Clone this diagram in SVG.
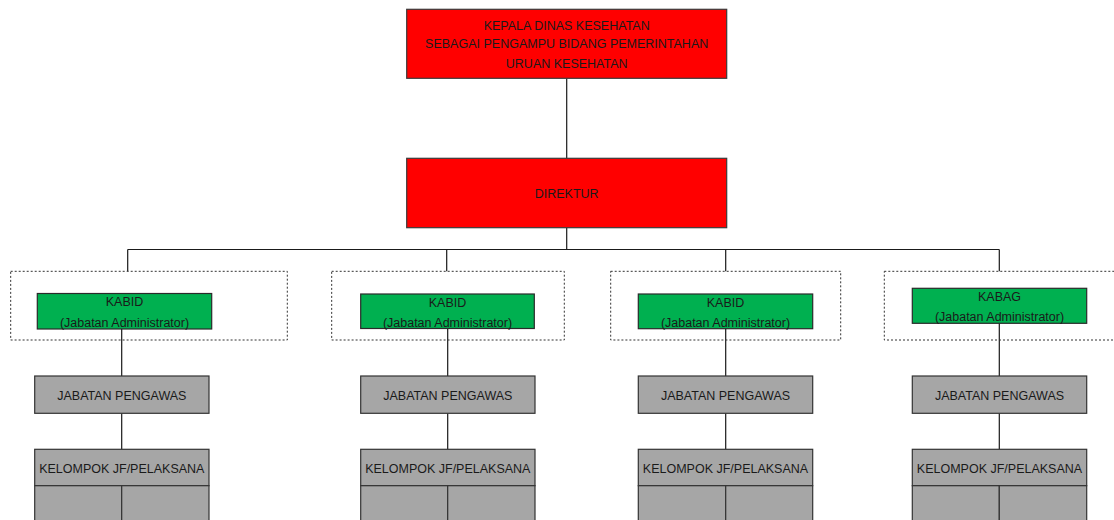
<svg xmlns="http://www.w3.org/2000/svg" width="1114" height="520" viewBox="0 0 1114 520">
  <style>
    text { font-family: "Liberation Sans", Arial, sans-serif; font-size: 12.5px; fill: #1a1a1a; text-anchor: middle; dominant-baseline: central; }
    .red { fill: #ff0000; stroke: #3a3a3a; stroke-width: 1.2; }
    .green { fill: #00b050; stroke: #2a2a2a; stroke-width: 1.2; }
    .grey { fill: #a6a6a6; stroke: #333333; stroke-width: 1.2; }
    .frame { fill: none; stroke: #333333; stroke-width: 1; stroke-dasharray: 2 2; }
    .link { fill: none; stroke: #1a1a1a; stroke-width: 1.2; }
  </style>

  <!-- connectors -->
  <g id="connectors">
    <path class="link" d="M566.7 78.5 V158.3"/>
    <path class="link" d="M566.7 227.7 V249.5"/>
    <path class="link" d="M127.7 249.5 H999.3"/>
    <path class="link" d="M127.7 249.5 V271.3 M446.7 249.5 V271.3 M725.7 249.5 V271.3 M999.3 249.5 V271.3"/>
    <path class="link" d="M121.7 329 V376 M447.7 328.5 V376 M725.7 328.7 V376 M999.3 323.3 V376"/>
    <path class="link" d="M121.7 413.3 V449.3 M447.7 413.3 V449.3 M725.7 413.3 V449.3 M999.3 413.3 V449.3"/>
  </g>

  <!-- head of office -->
  <g id="kepala-dinas">
    <rect class="red" x="406.7" y="9.3" width="320" height="69"/>
    <text x="566.7" y="25.5">KEPALA DINAS KESEHATAN</text>
    <text x="566.7" y="44.3">SEBAGAI PENGAMPU BIDANG PEMERINTAHAN</text>
    <text x="566.7" y="63.5">URUAN KESEHATAN</text>
  </g>

  <g id="direktur">
    <rect class="red" x="406.7" y="158.3" width="320" height="69.4"/>
    <text x="566.7" y="194">DIREKTUR</text>
  </g>

  <!-- column 1 -->
  <g id="kabid-1">
    <rect class="frame" x="10.7" y="271.3" width="276.6" height="68.7"/>
    <rect class="green" x="37.3" y="293.5" width="174.4" height="35.5"/>
    <text x="124.5" y="302.3">KABID</text>
    <text x="124.5" y="322.5">(Jabatan Administrator)</text>
  </g>
  <g id="pengawas-1">
    <rect class="grey" x="34.7" y="376" width="174.3" height="37.3"/>
    <text x="121.8" y="396">JABATAN PENGAWAS</text>
  </g>
  <g id="kelompok-1">
    <rect class="grey" x="34.7" y="449.3" width="174.3" height="36.4"/>
    <text x="121.8" y="469">KELOMPOK JF/PELAKSANA</text>
    <rect class="grey" x="34.7" y="485.7" width="87" height="40"/>
    <rect class="grey" x="121.7" y="485.7" width="87.3" height="40"/>
  </g>

  <!-- column 2 -->
  <g id="kabid-2">
    <rect class="frame" x="331.7" y="271.3" width="232.6" height="68.7"/>
    <rect class="green" x="360.7" y="294" width="173.6" height="34.5"/>
    <text x="447.5" y="302.5">KABID</text>
    <text x="447.5" y="322.5">(Jabatan Administrator)</text>
  </g>
  <g id="pengawas-2">
    <rect class="grey" x="360.7" y="376" width="174.3" height="37.3"/>
    <text x="447.8" y="396">JABATAN PENGAWAS</text>
  </g>
  <g id="kelompok-2">
    <rect class="grey" x="360.7" y="449.3" width="174.3" height="36.4"/>
    <text x="447.8" y="469">KELOMPOK JF/PELAKSANA</text>
    <rect class="grey" x="360.7" y="485.7" width="87" height="40"/>
    <rect class="grey" x="447.7" y="485.7" width="87.3" height="40"/>
  </g>

  <!-- column 3 -->
  <g id="kabid-3">
    <rect class="frame" x="610.7" y="271.3" width="230" height="68.7"/>
    <rect class="green" x="638.3" y="294" width="174.4" height="34.7"/>
    <text x="725.5" y="302.5">KABID</text>
    <text x="725.5" y="322.5">(Jabatan Administrator)</text>
  </g>
  <g id="pengawas-3">
    <rect class="grey" x="638.3" y="376" width="174.4" height="37.3"/>
    <text x="725.5" y="396">JABATAN PENGAWAS</text>
  </g>
  <g id="kelompok-3">
    <rect class="grey" x="638.3" y="449.3" width="174.4" height="36.4"/>
    <text x="725.5" y="469">KELOMPOK JF/PELAKSANA</text>
    <rect class="grey" x="638.3" y="485.7" width="87.4" height="40"/>
    <rect class="grey" x="725.7" y="485.7" width="87" height="40"/>
  </g>

  <!-- column 4 -->
  <g id="kabag-4">
    <rect class="frame" x="884.3" y="271.3" width="240" height="68.7"/>
    <rect class="green" x="912.3" y="288.3" width="174.4" height="35"/>
    <text x="999.5" y="297.3">KABAG</text>
    <text x="999.5" y="317.3">(Jabatan Administrator)</text>
  </g>
  <g id="pengawas-4">
    <rect class="grey" x="912.3" y="376" width="174.4" height="37.3"/>
    <text x="999.5" y="396">JABATAN PENGAWAS</text>
  </g>
  <g id="kelompok-4">
    <rect class="grey" x="912.3" y="449.3" width="174.4" height="36.4"/>
    <text x="999.5" y="469">KELOMPOK JF/PELAKSANA</text>
    <rect class="grey" x="912.3" y="485.7" width="87" height="40"/>
    <rect class="grey" x="999.3" y="485.7" width="87.4" height="40"/>
  </g>
</svg>
